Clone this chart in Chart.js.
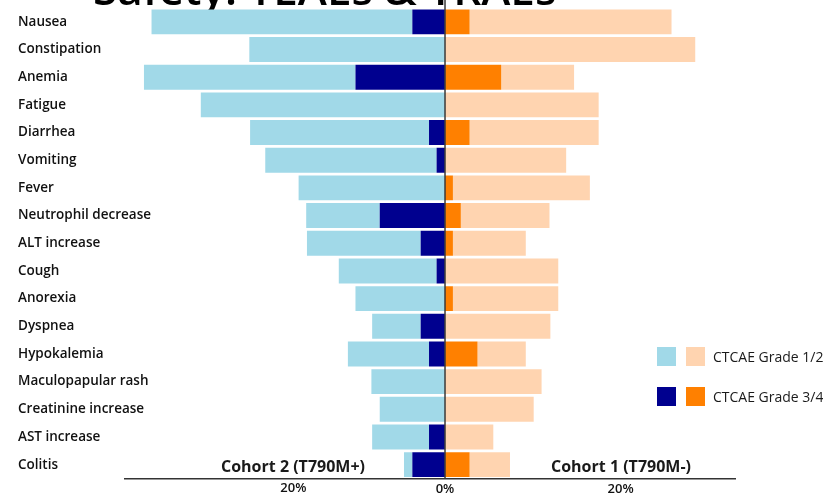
<!DOCTYPE html>
<html>
<head>
<meta charset="utf-8">
<script src="https://cdn.jsdelivr.net/npm/chart.js@4/dist/chart.umd.min.js"></script>
<style>
  body { margin: 0; background: #fff; }
  #wrap { position: relative; width: 823px; height: 495px; overflow: hidden; font-family: "Open Sans", sans-serif; color: #1a1a1a; }
  canvas { position: absolute; left: 0; top: 0; }
  .cohort { position: absolute; top: 455px; font-weight: bold; font-size: 16px; line-height: 22px; white-space: nowrap; }
  .sw { position: absolute; width: 19px; height: 19px; }
  .lg { position: absolute; left: 713px; font-size: 14px; line-height: 19px; white-space: nowrap; }
</style>
</head>
<body>
<div id="wrap">
  <canvas id="chart" width="823" height="495"></canvas>
  <div class="cohort" style="left:221px">Cohort 2 (T790M+)</div>
  <div class="cohort" style="left:551px">Cohort 1 (T790M-)</div>
  <div class="sw" style="left:657px;top:347px;background:#a1d9e8"></div>
  <div class="sw" style="left:686px;top:347px;background:#ffd4b0"></div>
  <div class="lg" style="top:347px">CTCAE Grade 1/2</div>
  <div class="sw" style="left:657px;top:387px;background:#00008f"></div>
  <div class="sw" style="left:686px;top:387px;background:#ff8000"></div>
  <div class="lg" style="top:387px">CTCAE Grade 3/4</div>
</div>
<script>
const categories = ['Nausea', 'Constipation', 'Anemia', 'Fatigue', 'Diarrhea', 'Vomiting', 'Fever',
  'Neutrophil decrease', 'ALT increase', 'Cough', 'Anorexia', 'Dyspnea', 'Hypokalemia',
  'Maculopapular rash', 'Creatinine increase', 'AST increase', 'Colitis'];

// Cohort 2 (T790M+), left side, % of patients
const cohort2Grade34 = [4.3, 0, 11.8, 0, 2.1, 1.1, 0, 8.6, 3.2, 1.1, 0, 3.2, 2.1, 0, 0, 2.1, 4.3];
const cohort2Grade12 = [34.4, 25.8, 27.9, 32.2, 23.6, 22.6, 19.3, 9.7, 15.0, 12.9, 11.8, 6.4, 10.7, 9.7, 8.6, 7.5, 1.1];

// Cohort 1 (T790M-), right side, % of patients
const cohort1Grade34 = [2.8, 0, 6.4, 0, 2.8, 0, 0.9, 1.8, 0.9, 0, 0.9, 0, 3.7, 0, 0, 0, 2.8];
const cohort1Grade12 = [23.0, 28.5, 8.3, 17.5, 14.7, 13.8, 15.6, 10.1, 8.3, 12.9, 12.0, 12.0, 5.5, 11.0, 10.1, 5.5, 4.6];

const leftTicks = [-20];
const rightTicks = [0, 20];

const tickFont = { family: 'Open Sans', size: 13, weight: '600' };
const pct = v => Math.abs(v) + '%';

// zero line, left-side tick label and the cropped slide title
const extras = {
    id: 'extras',
    beforeDraw(chart) {
        const ctx = chart.ctx;
        ctx.save();
        ctx.fillStyle = '#000';
        ctx.font = '600 44px "Open Sans"';
        ctx.textBaseline = 'alphabetic';
        ctx.fillText('Safety: TEAEs & TRAEs', 93, 5);
        ctx.restore();
    },
    afterDraw(chart) {
        const ctx = chart.ctx;
        const xs = chart.scales.x;
        const xl = chart.scales.xL;
        const x0 = xs.getPixelForValue(0);
        ctx.save();
        ctx.strokeStyle = '#3a3a3a';
        ctx.lineWidth = 1.5;
        ctx.beginPath();
        ctx.moveTo(x0, 0);
        ctx.lineTo(x0, chart.chartArea.bottom);
        ctx.stroke();

        ctx.fillStyle = '#111';
        ctx.font = '600 13px "Open Sans"';
        ctx.textAlign = 'center';
        ctx.textBaseline = 'top';
        leftTicks.forEach(v => ctx.fillText(pct(v), xl.getPixelForValue(v), xs.top + 3));
        ctx.restore();
    }
};

const ctx = document.getElementById('chart').getContext('2d');
const chart = new Chart(ctx, {
    type: 'bar',
    plugins: [extras],
    data: {
        labels: categories,
        datasets: [{
            label: 'Cohort 2 CTCAE Grade 3/4',
            data: cohort2Grade34.map(v => -v),
            backgroundColor: '#00008f',
            xAxisID: 'xL'
        }, {
            label: 'Cohort 2 CTCAE Grade 1/2',
            data: cohort2Grade12.map(v => -v),
            backgroundColor: '#a1d9e8',
            xAxisID: 'xL'
        }, {
            label: 'Cohort 1 CTCAE Grade 3/4',
            data: cohort1Grade34,
            backgroundColor: '#ff8000',
            xAxisID: 'x'
        }, {
            label: 'Cohort 1 CTCAE Grade 1/2',
            data: cohort1Grade12,
            backgroundColor: '#ffd4b0',
            xAxisID: 'x'
        }]
    },
    options: {
        indexAxis: 'y',
        responsive: false,
        animation: false,
        barPercentage: 0.9,
        categoryPercentage: 1,
        layout: { padding: { top: 8, left: 125, right: 88, bottom: 0 } },
        plugins: {
            legend: { display: false },
            tooltip: { enabled: false }
        },
        scales: {
            y: {
                stacked: true,
                grid: { display: false, drawTicks: false },
                border: { display: false },
                ticks: {
                    mirror: true,
                    crossAlign: 'near',
                    padding: -107,
                    color: '#111',
                    font: { family: 'Open Sans', size: 13.5, weight: '600' }
                },
                afterFit(scale) { scale.width = 0; }
            },
            x: {
                stacked: true,
                position: 'bottom',
                min: -36.45,
                max: 33.03,
                grid: { display: false, drawTicks: false },
                border: { display: true, color: '#333', width: 1.5 },
                afterBuildTicks(scale) { scale.ticks = rightTicks.map(v => ({ value: v })); },
                ticks: {
                    padding: 3,
                    color: '#111',
                    font: tickFont,
                    callback: pct
                },
                afterFit(scale) { scale.height = 16.5; }
            },
            xL: {
                stacked: true,
                display: false,
                position: 'bottom',
                min: -42.2,
                max: 38.26
            }
        }
    }
});
</script>
</body>
</html>
